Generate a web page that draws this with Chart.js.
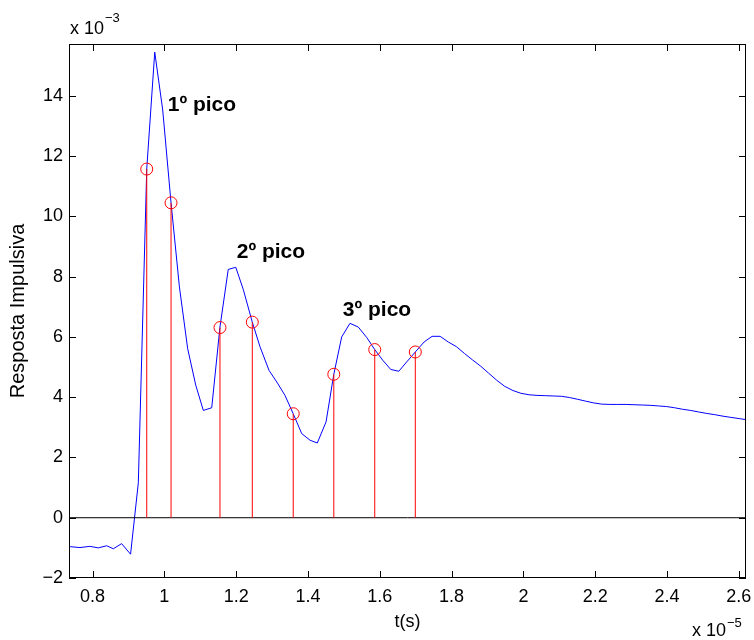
<!DOCTYPE html>
<html lang="pt">
<head>
<meta charset="UTF-8">
<title>Resposta Impulsiva</title>
<script src="https://cdn.jsdelivr.net/npm/chart.js@4.4.1/dist/chart.umd.min.js"></script>
<style>
  body { margin: 0; background: #fff; }
  canvas { display: block; }
</style>
</head>
<body>
<canvas id="grafico" width="754" height="640"></canvas>
<script>
// Dados (t em 1e-5 s, resposta em 1e-3)
const tempo = [
  0.7376, 0.765, 0.7925, 0.816, 0.8395, 0.858, 0.881, 0.906, 0.9276, 0.951,
  0.9733, 0.9955, 1.0187, 1.042, 1.065, 1.0875, 1.1086, 1.132, 1.155, 1.178,
  1.199, 1.22, 1.245, 1.2666, 1.2916, 1.315, 1.336, 1.359, 1.3827, 1.406,
  1.426, 1.4504, 1.472, 1.494, 1.517, 1.540, 1.5638, 1.586, 1.608, 1.6306,
  1.653, 1.675, 1.699, 1.7234, 1.7457, 1.768, 1.791, 1.813, 1.836, 1.858,
  1.881, 1.903, 1.926, 1.948, 1.971, 1.993, 2.016, 2.038, 2.061, 2.083,
  2.106, 2.128, 2.151, 2.173, 2.196, 2.218, 2.241, 2.263, 2.286, 2.308,
  2.331, 2.353, 2.376, 2.398, 2.421, 2.443, 2.466, 2.488, 2.511, 2.533,
  2.556, 2.578, 2.601, 2.623
];
const resposta = [
  -0.96, -0.99, -0.95, -1.00, -0.93, -1.03, -0.86, -1.21, 1.16, 11.57,
  15.45, 13.53, 10.45, 7.66, 5.61, 4.40, 3.56, 3.65, 6.33, 8.24,
  8.31, 7.57, 6.49, 5.67, 4.89, 4.47, 4.06, 3.45, 2.79, 2.57,
  2.48, 3.18, 4.76, 6.00, 6.45, 6.33, 5.98, 5.58, 5.23, 4.92,
  4.86, 5.17, 5.50, 5.83, 6.02, 6.02, 5.83, 5.68, 5.45, 5.24,
  5.03, 4.80, 4.56, 4.36, 4.22, 4.13, 4.08, 4.06, 4.05, 4.04,
  4.03, 3.99, 3.93, 3.87, 3.81, 3.77, 3.76, 3.76, 3.76, 3.75,
  3.74, 3.73, 3.71, 3.69, 3.65, 3.60, 3.56, 3.51, 3.46, 3.42,
  3.37, 3.33, 3.29, 3.25
];

// Amostras marcadas (hastes vermelhas)
const amostrasT = [0.951, 1.0187, 1.155, 1.245, 1.359, 1.472, 1.586, 1.699];
const amostrasY = [11.57, 10.45, 6.31, 6.49, 3.45, 4.76, 5.58, 5.50];

// Eixos
const limitesX = [0.7345, 2.62];
const limitesY = [-2, 15.72];
const ticksX = [0.8, 1, 1.2, 1.4, 1.6, 1.8, 2, 2.2, 2.4, 2.6];
const ticksY = [-2, 0, 2, 4, 6, 8, 10, 12, 14];

// Anotações dos picos
const picos = ['1º pico', '2º pico', '3º pico'];
const picosT = [1.0095, 1.2017, 1.497];
const picosY = [13.7, 8.8, 6.89];

const FONTE = '"Liberation Sans", Arial, Helvetica, sans-serif';

// Monta as séries
const curva = tempo.map((t, i) => ({ x: t, y: resposta[i] }));

let hastes = [];
amostrasT.forEach((t, i) => {
    hastes.push({ x: t, y: 0 });
    hastes.push({ x: t, y: amostrasY[i] });
    hastes.push({ x: t, y: null });
});

const circulos = amostrasT.map((t, i) => ({ x: t, y: amostrasY[i] }));
const linhaZero = [{ x: limitesX[0], y: 0 }, { x: limitesX[1], y: 0 }];

// Moldura, ticks internos, expoentes e rótulos dos picos
const moldura = {
    id: 'moldura',
    afterDatasetsDraw(chart) {
        const ctx = chart.ctx;
        const a = chart.chartArea;
        const sx = chart.scales.x;
        const sy = chart.scales.y;
        const L = 7;

        ctx.save();
        ctx.strokeStyle = '#000';
        ctx.lineWidth = 1;
        ctx.strokeRect(Math.round(a.left) + 0.5, Math.round(a.top) + 0.5,
            Math.round(a.width) - 1, Math.round(a.height) - 1);

        ctx.beginPath();
        for (const v of ticksX) {
            const px = Math.round(sx.getPixelForValue(v)) + 0.5;
            ctx.moveTo(px, a.bottom); ctx.lineTo(px, a.bottom - L);
            ctx.moveTo(px, a.top); ctx.lineTo(px, a.top + L);
        }
        for (const v of ticksY) {
            const py = Math.round(sy.getPixelForValue(v)) + 0.5;
            ctx.moveTo(a.left, py); ctx.lineTo(a.left + L, py);
            ctx.moveTo(a.right, py); ctx.lineTo(a.right - L, py);
        }
        ctx.stroke();

        // expoentes dos eixos
        ctx.fillStyle = '#000';
        ctx.textAlign = 'left';
        ctx.textBaseline = 'alphabetic';
        ctx.font = '18px ' + FONTE;
        ctx.fillText('x 10', a.left + 1, a.top - 10);
        let w = ctx.measureText('x 10').width;
        ctx.font = '13px ' + FONTE;
        ctx.fillText('\u22123', a.left + 2 + w, a.top - 22);

        ctx.font = '18px ' + FONTE;
        w = ctx.measureText('x 10').width;
        ctx.fillText('x 10', a.right - 54, a.bottom + 58);
        ctx.font = '13px ' + FONTE;
        ctx.fillText('\u22125', a.right - 53 + w, a.bottom + 49);

        // rótulos dos picos
        ctx.font = 'bold 21px ' + FONTE;
        ctx.textBaseline = 'middle';
        picos.forEach((txt, i) => {
            ctx.fillText(txt, sx.getPixelForValue(picosT[i]), sy.getPixelForValue(picosY[i]));
        });
        ctx.restore();
    }
};

Chart.defaults.font.family = FONTE;
Chart.defaults.color = '#000';

const grafico = new Chart(document.getElementById('grafico').getContext('2d'), {
    type: 'line',
    data: {
        datasets: [
            {
                data: curva,
                borderColor: '#0000ff',
                borderWidth: 1,
                pointRadius: 0,
                tension: 0,
                order: 4
            },
            {
                data: linhaZero,
                borderColor: '#000',
                borderWidth: 1,
                pointRadius: 0,
                order: 3
            },
            {
                data: hastes,
                borderColor: '#ff0000',
                borderWidth: 1,
                pointRadius: 0,
                spanGaps: false,
                order: 2
            },
            {
                data: circulos,
                showLine: false,
                pointRadius: 6,
                pointBorderColor: '#ff0000',
                pointBackgroundColor: 'rgba(0,0,0,0)',
                pointBorderWidth: 1,
                order: 1
            }
        ]
    },
    options: {
        responsive: false,
        animation: false,
        layout: { padding: { top: 44, right: 8, left: 0, bottom: 0 } },
        plugins: {
            legend: { display: false },
            tooltip: { enabled: false }
        },
        scales: {
            x: {
                type: 'linear',
                min: limitesX[0],
                max: limitesX[1],
                grid: { display: false, drawTicks: false },
                border: { display: false },
                afterBuildTicks: (scale) => { scale.ticks = ticksX.map(v => ({ value: v })); },
                afterFit: (scale) => {
                    scale.height = 62;
                    scale.paddingLeft = 0;
                    scale.paddingRight = 0;
                },
                ticks: {
                    font: { size: 18 },
                    padding: 8,
                    maxRotation: 0,
                    callback: (v) => String(v)
                },
                title: {
                    display: true,
                    text: 't(s)',
                    font: { size: 18 },
                    padding: { top: 0, bottom: 7 }
                }
            },
            y: {
                type: 'linear',
                min: limitesY[0],
                max: limitesY[1],
                grid: { display: false, drawTicks: false },
                border: { display: false },
                afterBuildTicks: (scale) => { scale.ticks = ticksY.map(v => ({ value: v })); },
                afterFit: (scale) => {
                    scale.width = 69;
                    scale.paddingTop = 0;
                    scale.paddingBottom = 0;
                },
                ticks: {
                    font: { size: 18 },
                    padding: 6,
                    callback: (v) => String(v).replace('-', '\u2212')
                },
                title: {
                    display: true,
                    text: 'Resposta Impulsiva',
                    font: { size: 20 },
                    padding: { top: 6, bottom: 0 }
                }
            }
        }
    },
    plugins: [moldura]
});
</script>
</body>
</html>
